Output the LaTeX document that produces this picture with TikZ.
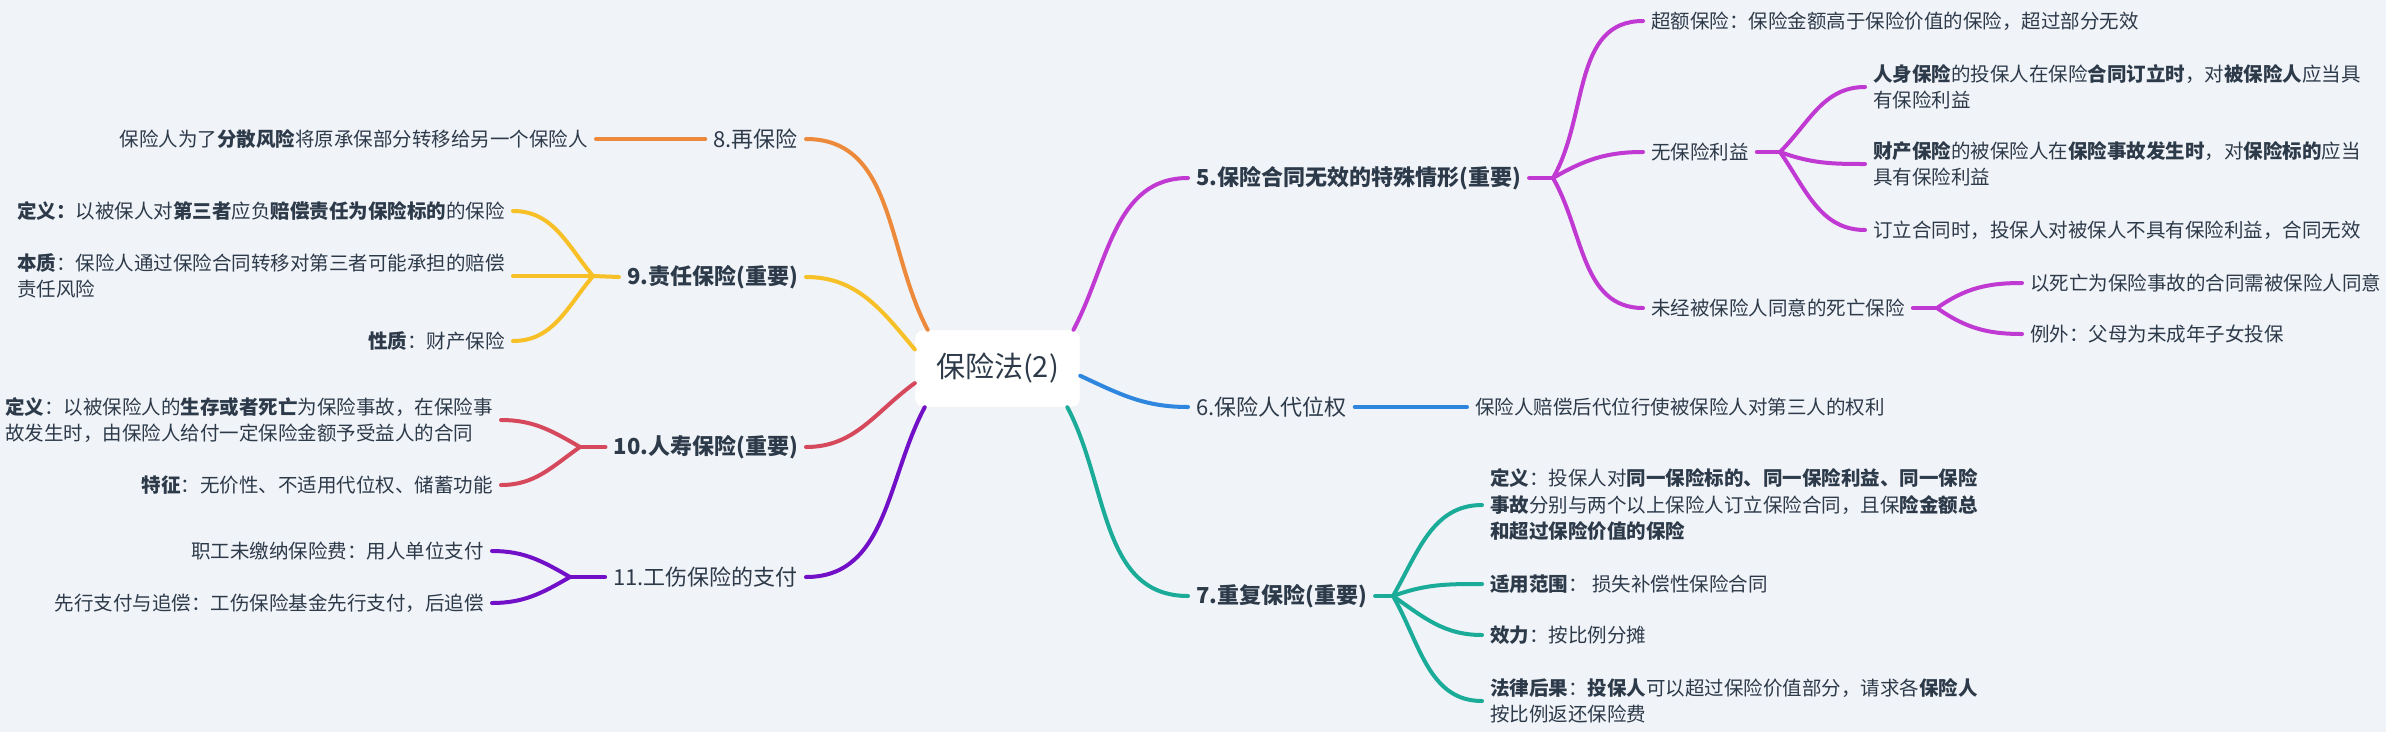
\documentclass[tikz,border=0pt]{standalone}
\usepackage{fontspec}
\setmainfont{Noto Sans CJK SC}
\definecolor{bgc}{RGB}{240,243,247}
\definecolor{txt}{RGB}{45,58,74}
\definecolor{cfive}{RGB}{192,57,210}
\definecolor{csix}{RGB}{46,134,222}
\definecolor{cseven}{RGB}{26,172,152}
\definecolor{ceight}{RGB}{237,137,58}
\definecolor{cnine}{RGB}{247,192,39}
\definecolor{cten}{RGB}{214,72,92}
\definecolor{celeven}{RGB}{114,16,200}
\begin{document}
\begin{tikzpicture}[x=1pt,y=1pt,line cap=round,line join=round,
    every node/.style={text=txt,inner xsep=8pt,inner ysep=0pt},
    rootbox/.style={fill=white,draw=black!5,rounded corners=8pt,minimum width=165pt,minimum height=77pt,font=\fontsize{29}{34}\selectfont},
    topic/.style={font=\fontsize{22}{26}\selectfont},
    leaf/.style={font=\fontsize{19.5}{26.5}\selectfont,align=left},
    link/.style={line width=4pt}]
    \fill[bgc] (0,0) rectangle (2386,-732);
    \useasboundingbox (0,0) rectangle (2386,-732);
    % centre
    \node[rootbox] (root) at (997.5,-368.5) {保险法(2)};
    % right side topics
    \node[topic,anchor=west] (b5) at (1188,-178) {\textbf{5.保险合同无效的特殊情形(重要)}};
    \node[topic,anchor=west] (b6) at (1188,-407) {6.保险人代位权};
    \node[topic,anchor=west] (b7) at (1188,-596) {\textbf{7.重复保险(重要)}};
    % left side topics
    \node[topic,anchor=east] (b8) at (806,-139) {8.再保险};
    \node[topic,anchor=east] (b9) at (806,-277) {\textbf{9.责任保险(重要)}};
    \node[topic,anchor=east] (b10) at (806,-447) {\textbf{10.人寿保险(重要)}};
    \node[topic,anchor=east] (b11) at (806,-577) {11.工伤保险的支付};
    \draw[link,cfive] (root.27) to[out=62,in=180] (b5.west);
    \draw[link,csix] (root.-5) to[out=-25,in=180] (b6.west);
    \draw[link,cseven] (root.-29) to[out=-62,in=180] (b7.west);
    \draw[link,ceight] (b8.east) to[out=0,in=118] (root.151);
    \draw[link,cnine] (b9.east) to[out=0,in=130] (root.167);
    \draw[link,cten] (b10.east) to[out=0,in=216] (root.190);
    \draw[link,celeven] (b11.east) to[out=0,in=242] (root.208);
    % 5
    \node[leaf,anchor=west] (c51) at (1643,-21) {超额保险：保险金额高于保险价值的保险，超过部分无效};
    \node[leaf,anchor=west] (c52) at (1643,-152) {无保险利益};
    \node[leaf,anchor=west] (c53) at (1643,-308) {未经被保险人同意的死亡保险};
    \node[leaf,anchor=west] (d1) at (1865,-87) {\textbf{人身保险}的投保人在保险\textbf{合同订立时}，对\textbf{被保险人}应当具\\有保险利益};
    \node[leaf,anchor=west] (d2) at (1865,-164) {\textbf{财产保险}的被保险人在\textbf{保险事故发生时}，对\textbf{保险标的}应当\\具有保险利益};
    \node[leaf,anchor=west] (d3) at (1865,-230) {订立合同时，投保人对被保人不具有保险利益，合同无效};
    \node[leaf,anchor=west] (e1) at (2022,-283) {以死亡为保险事故的合同需被保险人同意};
    \node[leaf,anchor=west] (e2) at (2022,-334) {例外：父母为未成年子女投保};
    \coordinate (f5) at (1553,-178);
    \coordinate (f52) at (1780,-152);
    \coordinate (f53) at (1937,-308);
    \draw[link,cfive] (b5.east) -- (f5);
    \draw[link,cfive] (f5) to[out=60,in=180] (c51.west);
    \draw[link,cfive] (f5) to[out=30,in=180] (c52.west);
    \draw[link,cfive] (f5) to[out=-60,in=180] (c53.west);
    \draw[link,cfive] (c52.east) -- (f52);
    \draw[link,cfive] (f52) to[out=45,in=180] (d1.west);
    \draw[link,cfive] (f52) to[out=-20,in=180] (d2.west);
    \draw[link,cfive] (f52) to[out=-55,in=180] (d3.west);
    \draw[link,cfive] (c53.east) -- (f53);
    \draw[link,cfive] (f53) to[out=35,in=180] (e1.west);
    \draw[link,cfive] (f53) to[out=-35,in=180] (e2.west);
    % 6
    \node[leaf,anchor=west] (c61) at (1467,-407) {保险人赔偿后代位行使被保险人对第三人的权利};
    \draw[link,csix] (b6.east) -- (c61.west);
    % 7
    \node[leaf,anchor=west] (c71) at (1482,-505) {\textbf{定义}：投保人对\textbf{同一保险标的、同一保险利益、同一保险}\\\textbf{事故}分别与两个以上保险人订立保险合同，且保\textbf{险金额总}\\\textbf{和超过保险价值的保险}};
    \node[leaf,anchor=west] (c72) at (1482,-584) {\textbf{适用范围}： 损失补偿性保险合同};
    \node[leaf,anchor=west] (c73) at (1482,-635) {\textbf{效力}：按比例分摊};
    \node[leaf,anchor=west] (c74) at (1482,-701) {\textbf{法律后果}：\textbf{投保人}可以超过保险价值部分，请求各\textbf{保险人}\\按比例返还保险费};
    \coordinate (f7) at (1393,-596);
    \draw[link,cseven] (b7.east) -- (f7);
    \draw[link,cseven] (f7) to[out=60,in=180] (c71.west);
    \draw[link,cseven] (f7) to[out=20,in=180] (c72.west);
    \draw[link,cseven] (f7) to[out=-35,in=180] (c73.west);
    \draw[link,cseven] (f7) to[out=-60,in=180] (c74.west);
    % 8
    \node[leaf,anchor=east] (c81) at (596,-139) {保险人为了\textbf{分散风险}将原承保部分转移给另一个保险人};
    \draw[link,ceight] (b8.west) -- (c81.east);
    % 9
    \node[leaf,anchor=east] (c91) at (513,-211) {\textbf{定义：}以被保人对\textbf{第三者}应负\textbf{赔偿责任为保险标的}的保险};
    \node[leaf,anchor=east] (c92) at (513,-276) {\textbf{本质}：保险人通过保险合同转移对第三者可能承担的赔偿\\责任风险};
    \node[leaf,anchor=east] (c93) at (513,-341) {\textbf{性质}：财产保险};
    \coordinate (f9) at (593,-276);
    \draw[link,cnine] (b9.west) -- (f9);
    \draw[link,cnine] (f9) to[out=130,in=0] (c91.east);
    \draw[link,cnine] (f9) -- (c92.east);
    \draw[link,cnine] (f9) to[out=230,in=0] (c93.east);
    % 10
    \node[leaf,anchor=east] (c101) at (501,-420) {\textbf{定义}：以被保险人的\textbf{生存或者死亡}为保险事故，在保险事\\故发生时，由保险人给付一定保险金额予受益人的合同};
    \node[leaf,anchor=east] (c102) at (501,-485) {\textbf{特征}：无价性、不适用代位权、储蓄功能};
    \coordinate (f10) at (580,-447);
    \draw[link,cten] (b10.west) -- (f10);
    \draw[link,cten] (f10) to[out=150,in=0] (c101.east);
    \draw[link,cten] (f10) to[out=215,in=0] (c102.east);
    % 11
    \node[leaf,anchor=east] (c111) at (492,-551) {职工未缴纳保险费：用人单位支付};
    \node[leaf,anchor=east] (c112) at (492,-603) {先行支付与追偿：工伤保险基金先行支付，后追偿};
    \coordinate (f11) at (570,-577);
    \draw[link,celeven] (b11.west) -- (f11);
    \draw[link,celeven] (f11) to[out=150,in=0] (c111.east);
    \draw[link,celeven] (f11) to[out=210,in=0] (c112.east);
\end{tikzpicture}
\end{document}
